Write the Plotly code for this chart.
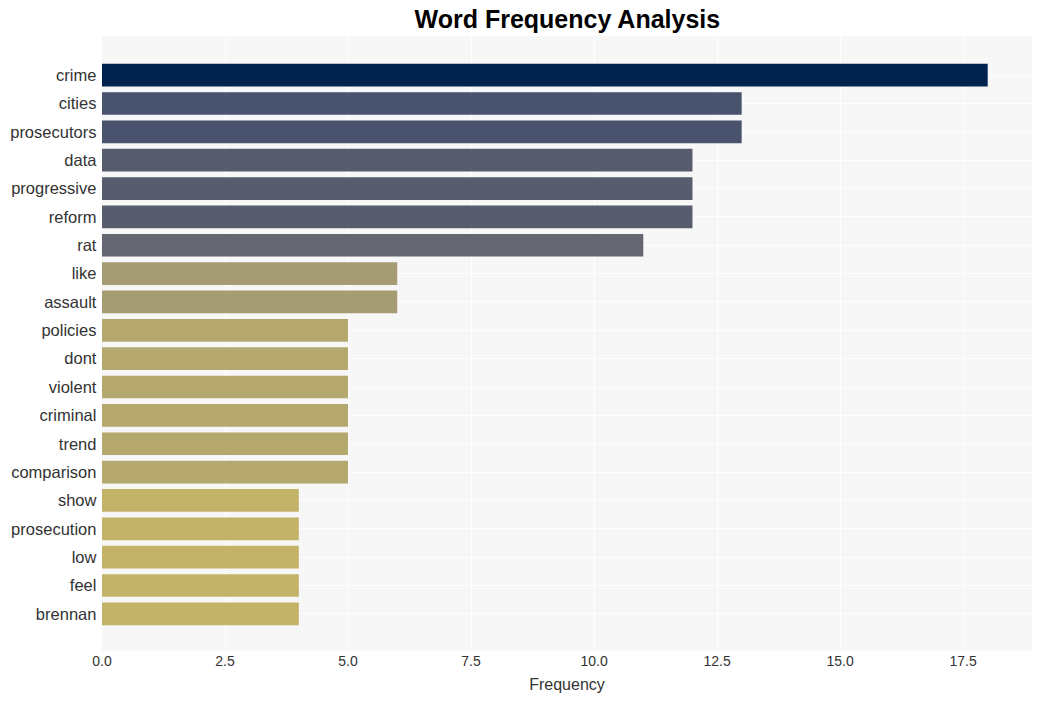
import plotly.graph_objects as go

words = ["crime", "cities", "prosecutors", "data", "progressive", "reform", "rat",
         "like", "assault", "policies", "dont", "violent", "criminal", "trend",
         "comparison", "show", "prosecution", "low", "feel", "brennan"]
freqs = [18, 13, 13, 12, 12, 12, 11, 6, 6, 5, 5, 5, 5, 5, 5, 4, 4, 4, 4, 4]

fig = go.Figure(go.Bar(
    x=freqs, y=words, orientation="h",
    marker=dict(color=freqs, colorscale="Cividis_r", cmin=0, cmax=18, line=dict(width=0)),
))

fig.update_layout(
    width=1041, height=701,
    margin=dict(l=102, r=9, t=36, b=50),
    paper_bgcolor="white", plot_bgcolor="#f7f7f7",
    font=dict(family="Liberation Sans, Arial, sans-serif", color="#333"),
    title=dict(text="<b>Word Frequency Analysis</b>", x=0.545, xanchor="center",
               y=0.972, yanchor="middle",
               font=dict(size=25, color="black", family="Liberation Sans, Arial, sans-serif")),
    bargap=0.2,
    showlegend=False,
)
fig.update_xaxes(range=[0, 18.9], tick0=0, dtick=2.5, tickformat=".1f",
                 showgrid=True, gridcolor="white", gridwidth=1, zeroline=False,
                 tickfont=dict(size=14), title=dict(text="Frequency", font=dict(size=16), standoff=10))
fig.update_yaxes(range=[20.31, -1.38], showgrid=True, gridcolor="white", gridwidth=1,
                 tickfont=dict(size=16.5), ticksuffix=" ")

fig.write_html("out.html")
